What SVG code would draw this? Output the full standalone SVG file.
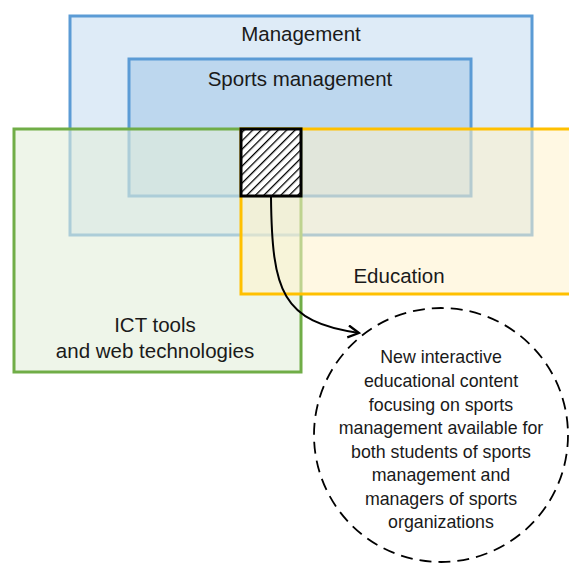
<svg xmlns="http://www.w3.org/2000/svg" width="569" height="567" viewBox="0 0 569 567">
  <style>
    .lbl { font-family: "Liberation Sans", Arial, sans-serif; font-size: 20.5px; fill: #1a1a1a; text-anchor: middle; }
    .note { font-family: "Liberation Sans", Arial, sans-serif; font-size: 17.8px; fill: #1a1a1a; text-anchor: middle; }
    .blue { stroke: #5B9BD5; stroke-width: 3; }
  </style>
  <defs>
    <pattern id="hatch" width="6" height="6" patternUnits="userSpaceOnUse" patternTransform="rotate(45)">
      <rect width="6" height="6" fill="#ffffff"/>
      <line x1="0" y1="0" x2="0" y2="6" stroke="#000" stroke-width="2.6"/>
    </pattern>
    <marker id="vhead" markerWidth="16" markerHeight="16" refX="12" refY="7" orient="auto" markerUnits="userSpaceOnUse">
      <polyline points="1,1 12,7 1,13" fill="none" stroke="#000" stroke-width="2.2"/>
    </marker>
  </defs>

  <rect width="569" height="567" fill="#ffffff"/>

  <g id="management">
    <rect x="70" y="16" width="462" height="219" fill="#DEEBF7" class="blue"/>
    <text class="lbl" x="301" y="41">Management</text>
  </g>

  <g id="sports-management">
    <rect x="129" y="59" width="342" height="137" fill="#BDD7EE" class="blue"/>
    <text class="lbl" x="300" y="86">Sports management</text>
  </g>

  <g id="ict">
    <rect x="14" y="129" width="287" height="243" fill="#E2EFDA" fill-opacity="0.6" stroke="#70AD47" stroke-width="3"/>
    <text class="lbl" x="155" y="332">ICT tools</text>
    <text class="lbl" x="155" y="358">and web technologies</text>
  </g>

  <g id="education">
    <rect x="241" y="129" width="340" height="165" fill="#FFF2CC" fill-opacity="0.55" stroke="#FFC000" stroke-width="3"/>
    <text class="lbl" x="399" y="283">Education</text>
  </g>

  <g id="intersection">
    <rect x="241" y="129" width="60" height="67" fill="url(#hatch)" stroke="#000" stroke-width="3"/>
  </g>

  <g id="connectors">
    <path d="M271,197 C272,292 282,322 359,333" fill="none" stroke="#000" stroke-width="2" marker-end="url(#vhead)"/>
  </g>

  <g id="outcome">
    <circle cx="441" cy="435" r="127" fill="#ffffff" stroke="#000" stroke-width="1.8" stroke-dasharray="12 7"/>
    <text class="note" x="441" y="363">New interactive</text>
    <text class="note" x="441" y="387">educational content</text>
    <text class="note" x="441" y="411">focusing on sports</text>
    <text class="note" x="441" y="434">management available for</text>
    <text class="note" x="441" y="458">both students of sports</text>
    <text class="note" x="441" y="481">management and</text>
    <text class="note" x="441" y="505">managers of sports</text>
    <text class="note" x="441" y="528">organizations</text>
  </g>
</svg>
